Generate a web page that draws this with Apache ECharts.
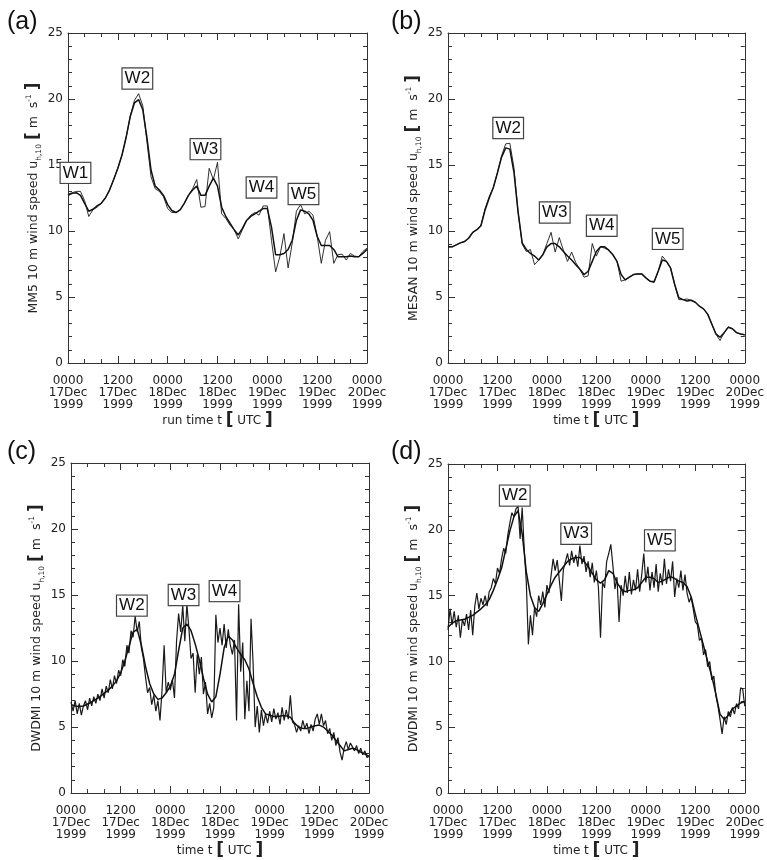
<!DOCTYPE html>
<html><head><meta charset="utf-8">
<script src="https://cdn.jsdelivr.net/npm/echarts@6/dist/echarts.min.js"></script>
<style>html,body{margin:0;padding:0;background:#fff}#c{width:767px;height:860px}</style>
</head><body><div id="c"></div>
<script>
const xTickLabels = ['0000\n17Dec\n1999','1200\n17Dec\n1999','0000\n18Dec\n1999','1200\n18Dec\n1999','0000\n19Dec\n1999','1200\n19Dec\n1999','0000\n20Dec\n1999'];
const panelLabels = ['(a)','(b)','(c)','(d)'];
const yModelNames = ['MM5','MESAN','DWDMI','DWDMI'];
const xAxisNames = ['run time t','time t','time t','time t'];

// hourly (a) MM5
const mm5Raw = [12.8,12.9,13.0,13.0,12.3,11.1,11.6,11.8,12.1,12.5,
 13.1,13.9,14.75,15.75,17.1,18.7,19.9,20.4,19.5,16.8,
 14.1,13.2,13.0,12.6,11.7,11.4,11.4,11.6,12.1,12.7,
 13.2,13.9,11.8,11.85,14.75,13.9,15.2,11.3,10.95,10.45,
 10.1,9.4,10.1,10.8,11.2,11.4,11.2,11.9,11.9,9.3,
 6.9,8.05,9.8,7.2,9.1,11.5,12.0,11.3,11.5,11.2,
 9.6,7.55,9.3,9.95,7.55,8.2,8.25,7.8,8.3,8.1,
 8.05,8.45,8.7];
const mm5Smooth = [12.7,12.85,12.9,12.7,12.1,11.5,11.65,11.9,12.1,12.5,
 13.1,13.9,14.75,15.75,17.1,18.7,19.7,19.95,19.2,17.1,
 14.6,13.4,13.1,12.7,12.0,11.55,11.4,11.6,12.1,12.7,
 13.1,13.4,12.7,12.7,13.4,14.0,13.4,11.8,11.1,10.6,
 10.1,9.7,10.2,10.8,11.1,11.3,11.5,11.7,11.7,10.3,
 8.2,8.2,8.3,8.6,9.3,10.8,11.6,11.5,11.3,10.8,
 9.6,8.9,8.9,8.9,8.6,8.05,8.05,8.05,8.1,8.05,
 8.05,8.3,8.6];
// hourly (b) MESAN
const mesanRaw = [8.8,8.8,8.95,9.1,9.2,9.45,9.9,10.1,10.45,11.7,
 12.6,13.3,14.45,15.7,16.6,16.65,14.8,11.45,9.0,8.45,
 8.6,7.45,7.8,8.2,9.05,9.9,8.4,9.5,8.55,7.7,
 8.4,7.6,7.1,6.5,6.6,9.05,8.1,8.8,8.7,8.55,
 8.2,7.7,6.2,6.3,6.5,6.7,6.75,6.75,6.45,6.2,
 6.1,6.95,8.1,7.7,7.2,5.95,4.8,4.8,4.85,4.75,
 4.6,4.3,4.1,3.7,2.95,2.2,1.7,2.3,2.75,2.6,
 2.3,2.2,2.1];
const mesanSmooth = [8.8,8.8,8.95,9.1,9.2,9.45,9.9,10.1,10.4,11.6,
 12.5,13.3,14.4,15.6,16.3,16.2,14.45,11.45,9.1,8.6,
 8.3,8.1,7.8,8.2,8.8,9.05,9.05,8.8,8.45,8.1,
 7.8,7.45,7.1,6.7,6.95,7.7,8.45,8.8,8.8,8.55,
 8.2,7.7,6.7,6.3,6.5,6.7,6.75,6.75,6.45,6.2,
 6.15,6.95,7.8,7.7,7.2,5.95,4.95,4.8,4.7,4.75,
 4.6,4.3,4.1,3.7,2.95,2.2,1.95,2.3,2.7,2.6,
 2.3,2.2,2.15];
// half-hourly (c) DWDMI station 1
const dwdmiCRaw = [6.9,6.2,7.0,6.0,6.8,5.9,6.6,7.0,6.3,7.2,
 6.6,7.3,6.8,7.5,7.0,7.9,7.2,8.1,7.6,8.6,
 7.9,8.9,8.3,9.3,8.9,10.1,9.6,11.2,10.6,12.3,
 11.8,13.4,12.2,13.0,11.0,10.2,8.8,7.6,8.0,6.7,
 7.4,6.2,7.0,5.5,7.8,11.2,7.6,8.4,7.8,8.6,
 7.2,11.5,13.6,12.2,14.2,11.5,14.3,12.4,10.2,10.6,
 7.6,10.5,9.0,10.3,7.5,8.4,6.0,6.8,5.7,6.5,
 13.5,11.4,12.5,11.2,12.8,11.0,12.4,11.2,10.5,11.6,
 5.5,14.3,9.2,11.4,5.6,8.5,6.2,13.2,9.8,5.0,
 6.6,4.6,6.3,5.1,6.0,5.3,6.2,5.4,6.4,5.6,
 6.1,5.2,6.5,5.5,6.3,5.6,7.4,5.4,5.2,4.6,
 5.1,4.7,5.5,4.9,5.3,4.5,5.2,4.7,5.6,6.0,
 5.2,6.0,5.1,5.5,4.5,4.9,4.0,4.6,3.6,4.2,
 3.1,2.5,3.4,3.9,3.3,3.8,3.5,3.2,3.6,3.0,
 3.4,2.9,3.2,2.7,2.8];
const dwdmiCSmooth = [6.7,6.6,6.55,6.6,6.75,6.9,7.1,7.3,7.55,7.8,
 8.1,8.5,9.1,10.0,11.1,12.2,12.4,11.2,9.6,8.3,
 7.5,7.1,7.2,7.6,8.1,9.0,10.8,12.5,12.8,12.3,
 11.3,10.1,8.7,7.5,6.9,7.3,9.0,11.0,11.9,11.6,
 11.0,10.5,10.1,9.4,8.3,7.3,6.5,6.0,5.9,5.8,
 5.8,5.85,5.85,5.75,5.3,5.0,4.9,4.9,5.0,5.1,
 5.15,5.0,4.7,4.4,4.0,3.6,3.2,3.3,3.4,3.3,
 3.1,2.95,2.8];
// half-hourly (d) DWDMI station 2
const dwdmiDRaw = [12.4,14.0,12.8,13.8,12.6,13.5,11.8,13.2,12.7,13.6,
 12.4,13.9,12.0,14.2,15.2,14.0,14.8,14.3,15.0,14.2,
 15.3,15.6,16.3,15.9,17.1,16.7,17.8,18.6,18.2,19.6,
 20.5,21.3,21.0,21.6,21.8,19.3,21.7,18.5,16.0,11.3,
 13.5,12.0,14.1,13.4,15.0,14.3,15.3,14.1,15.8,15.2,
 16.5,17.8,16.9,17.7,16.2,14.6,17.0,17.6,18.2,17.3,
 18.4,17.5,18.1,17.2,18.8,17.4,18.0,16.8,17.6,16.4,
 17.5,16.0,16.9,15.6,11.8,16.0,15.6,17.6,18.2,18.9,
 17.3,15.5,16.4,13.0,15.8,15.0,16.5,15.2,16.8,15.1,
 16.2,15.4,17.0,15.3,16.6,18.2,16.0,17.2,15.4,16.8,
 15.6,17.4,15.3,16.7,15.8,17.8,15.9,17.0,16.1,17.6,
 14.9,16.3,15.6,16.9,15.4,16.6,15.2,14.5,14.9,14.0,
 13.0,12.8,11.6,11.8,10.5,10.9,9.6,10.0,8.6,8.9,
 7.4,6.6,5.6,4.5,5.8,5.2,6.2,5.8,6.5,6.0,
 6.8,6.4,8.0,7.9,6.6];
const dwdmiDSmooth = [12.6,12.9,13.1,13.15,13.2,13.35,13.5,13.75,14.0,14.3,
 14.7,15.4,16.2,17.1,18.5,19.9,21.0,21.45,19.7,16.8,
 15.0,14.1,13.8,14.4,15.1,15.8,16.4,16.8,17.2,17.6,
 17.8,17.9,17.9,17.6,17.2,16.7,16.2,15.95,16.2,16.9,
 16.7,16.0,15.5,15.3,15.4,15.45,15.6,16.0,16.4,16.4,
 16.3,16.0,16.1,16.3,16.45,16.3,16.1,16.0,15.7,14.9,
 13.6,12.4,11.2,10.0,8.9,7.5,6.0,5.6,5.9,6.4,
 6.6,6.85,6.95];

// wave annotations (name, hour, speed)
const wavesA = ['W1','W2','W3','W4','W5'];
const wavesAHour = [1.8,16.7,33.1,46.6,56.7];
const wavesASpeed = [14.4,21.55,16.2,13.3,12.8];
const wavesB = ['W2','W3','W4','W5'];
const wavesBHour = [14.6,25.9,37.3,53.3];
const wavesBSpeed = [17.8,11.4,10.4,9.4];
const wavesC = ['W2','W3','W4'];
const wavesCHour = [14.7,27.2,37.1];
const wavesCSpeed = [14.2,15.0,15.3];
const wavesD = ['W2','W3','W5'];
const wavesDHour = [16.2,31.1,51.4];
const wavesDSpeed = [22.6,19.7,19.2];

const pairs = (arr, step) => arr.map((v, i) => [i * step, v]);
const panels = [
  {raw: pairs(mm5Raw, 1), smooth: pairs(mm5Smooth, 1), w: [wavesA, wavesAHour, wavesASpeed], rw: 0.9},
  {raw: pairs(mesanRaw, 1), smooth: pairs(mesanSmooth, 1), w: [wavesB, wavesBHour, wavesBSpeed], rw: 0.9},
  {raw: pairs(dwdmiCRaw, 0.5), smooth: pairs(dwdmiCSmooth, 1), w: [wavesC, wavesCHour, wavesCSpeed], rw: 1.2},
  {raw: pairs(dwdmiDRaw, 0.5), smooth: pairs(dwdmiDSmooth, 1), w: [wavesD, wavesDHour, wavesDSpeed], rw: 1.2}
];

const grids = [
  {left: 68, top: 33, width: 299, height: 330},
  {left: 448, top: 33, width: 299, height: 330},
  {left: 71, top: 463, width: 298, height: 334},
  {left: 448, top: 464, width: 299, height: 334}
];
const AX = '#333';
const FONT = 'DejaVu Sans';
const xAxes = [], yAxes = [], series = [];
grids.forEach((g, i) => {
  ['bottom', 'top'].forEach(pos => {
    const bottom = pos === 'bottom';
    xAxes.push({
      type: 'value', gridIndex: i, position: pos, min: 0, max: 72, interval: 12,
      axisLine: {show: true, onZero: false, lineStyle: {color: AX, width: 1}},
      axisTick: {show: true, inside: true, length: 7, lineStyle: {color: AX}},
      minorTick: {show: true, splitNumber: 3, length: 4, lineStyle: {color: AX}},
      splitLine: {show: false},
      axisLabel: bottom ? {show: true, margin: 12, fontFamily: FONT, fontSize: 12, lineHeight: 12, color: '#222',
        showMinLabel: true, showMaxLabel: true,
        formatter: v => xTickLabels[Math.round(v / 12)]} : {show: false},
      name: bottom ? xAxisNames[i] + ' {b|[} UTC {b|]}' : '',
      nameLocation: 'middle', nameGap: 45,
      nameTextStyle: {fontFamily: FONT, fontSize: 12, color: '#222', rich: {b: {fontFamily: FONT, fontSize: 17, fontWeight: 'bold', color: '#222'}}}
    });
  });
  ['left', 'right'].forEach(pos => {
    const left = pos === 'left';
    yAxes.push({
      type: 'value', gridIndex: i, position: pos, min: 0, max: 25, interval: 5,
      axisLine: {show: true, onZero: false, lineStyle: {color: AX, width: 1}},
      axisTick: {show: true, inside: true, length: 7, lineStyle: {color: AX}},
      minorTick: {show: true, splitNumber: 5, length: 4, lineStyle: {color: AX}},
      splitLine: {show: false},
      axisLabel: left ? {show: true, margin: 5, fontFamily: FONT, fontSize: 12, color: '#222'} : {show: false},
      name: left ? yModelNames[i] + ' 10 m wind speed u{sub|h,10} {b|[} m  s{sup|-1} {b|]}' : '',
      nameLocation: 'middle', nameRotate: 90, nameGap: 25,
      nameTextStyle: {fontFamily: FONT, fontSize: 12.5, color: '#222', lineHeight: 18,
        rich: {
          sub: {fontFamily: FONT, fontSize: 7.5, color: '#222', verticalAlign: 'bottom', lineHeight: 18},
          sup: {fontFamily: FONT, fontSize: 7.5, color: '#222', verticalAlign: 'top', lineHeight: 18},
          b: {fontFamily: FONT, fontSize: 17, fontWeight: 'bold', color: '#222', lineHeight: 18}
        }}
    });
  });
  const p = panels[i];
  series.push({
    type: 'line', xAxisIndex: 2 * i, yAxisIndex: 2 * i, data: p.raw, showSymbol: false, symbol: 'none',
    lineStyle: {color: '#1a1a1a', width: p.rw}, silent: true, animation: false, z: 3
  });
  series.push({
    type: 'line', xAxisIndex: 2 * i, yAxisIndex: 2 * i, data: p.smooth, showSymbol: false, symbol: 'none',
    lineStyle: {color: '#111', width: 1.5}, silent: true, animation: false, z: 4,
    markPoint: {
      symbol: 'rect', symbolSize: 1, itemStyle: {color: 'rgba(0,0,0,0)'}, silent: true, animation: false,
      label: {show: true, position: 'inside', formatter: '{b}', fontFamily: 'Liberation Sans', fontSize: 17,
        color: '#111', backgroundColor: '#fff', borderColor: '#444', borderWidth: 1.2, padding: [2, 2, 1, 2]},
      data: p.w[0].map((n, k) => ({name: n, coord: [p.w[1][k], p.w[2][k]]}))
    }
  });
});

const graphic = panelLabels.map((t, i) => ({
  type: 'text', left: i % 2 === 0 ? 7 : 391, top: i < 2 ? 10 : 440,
  style: {text: t, font: '25px "Liberation Sans"', fill: '#111'}
}));

const chart = echarts.init(document.getElementById('c'), null, {renderer: 'canvas'});
chart.setOption({
  animation: false, backgroundColor: '#fff',
  grid: grids, xAxis: xAxes, yAxis: yAxes, series: series, graphic: graphic
});
</script></body></html>
